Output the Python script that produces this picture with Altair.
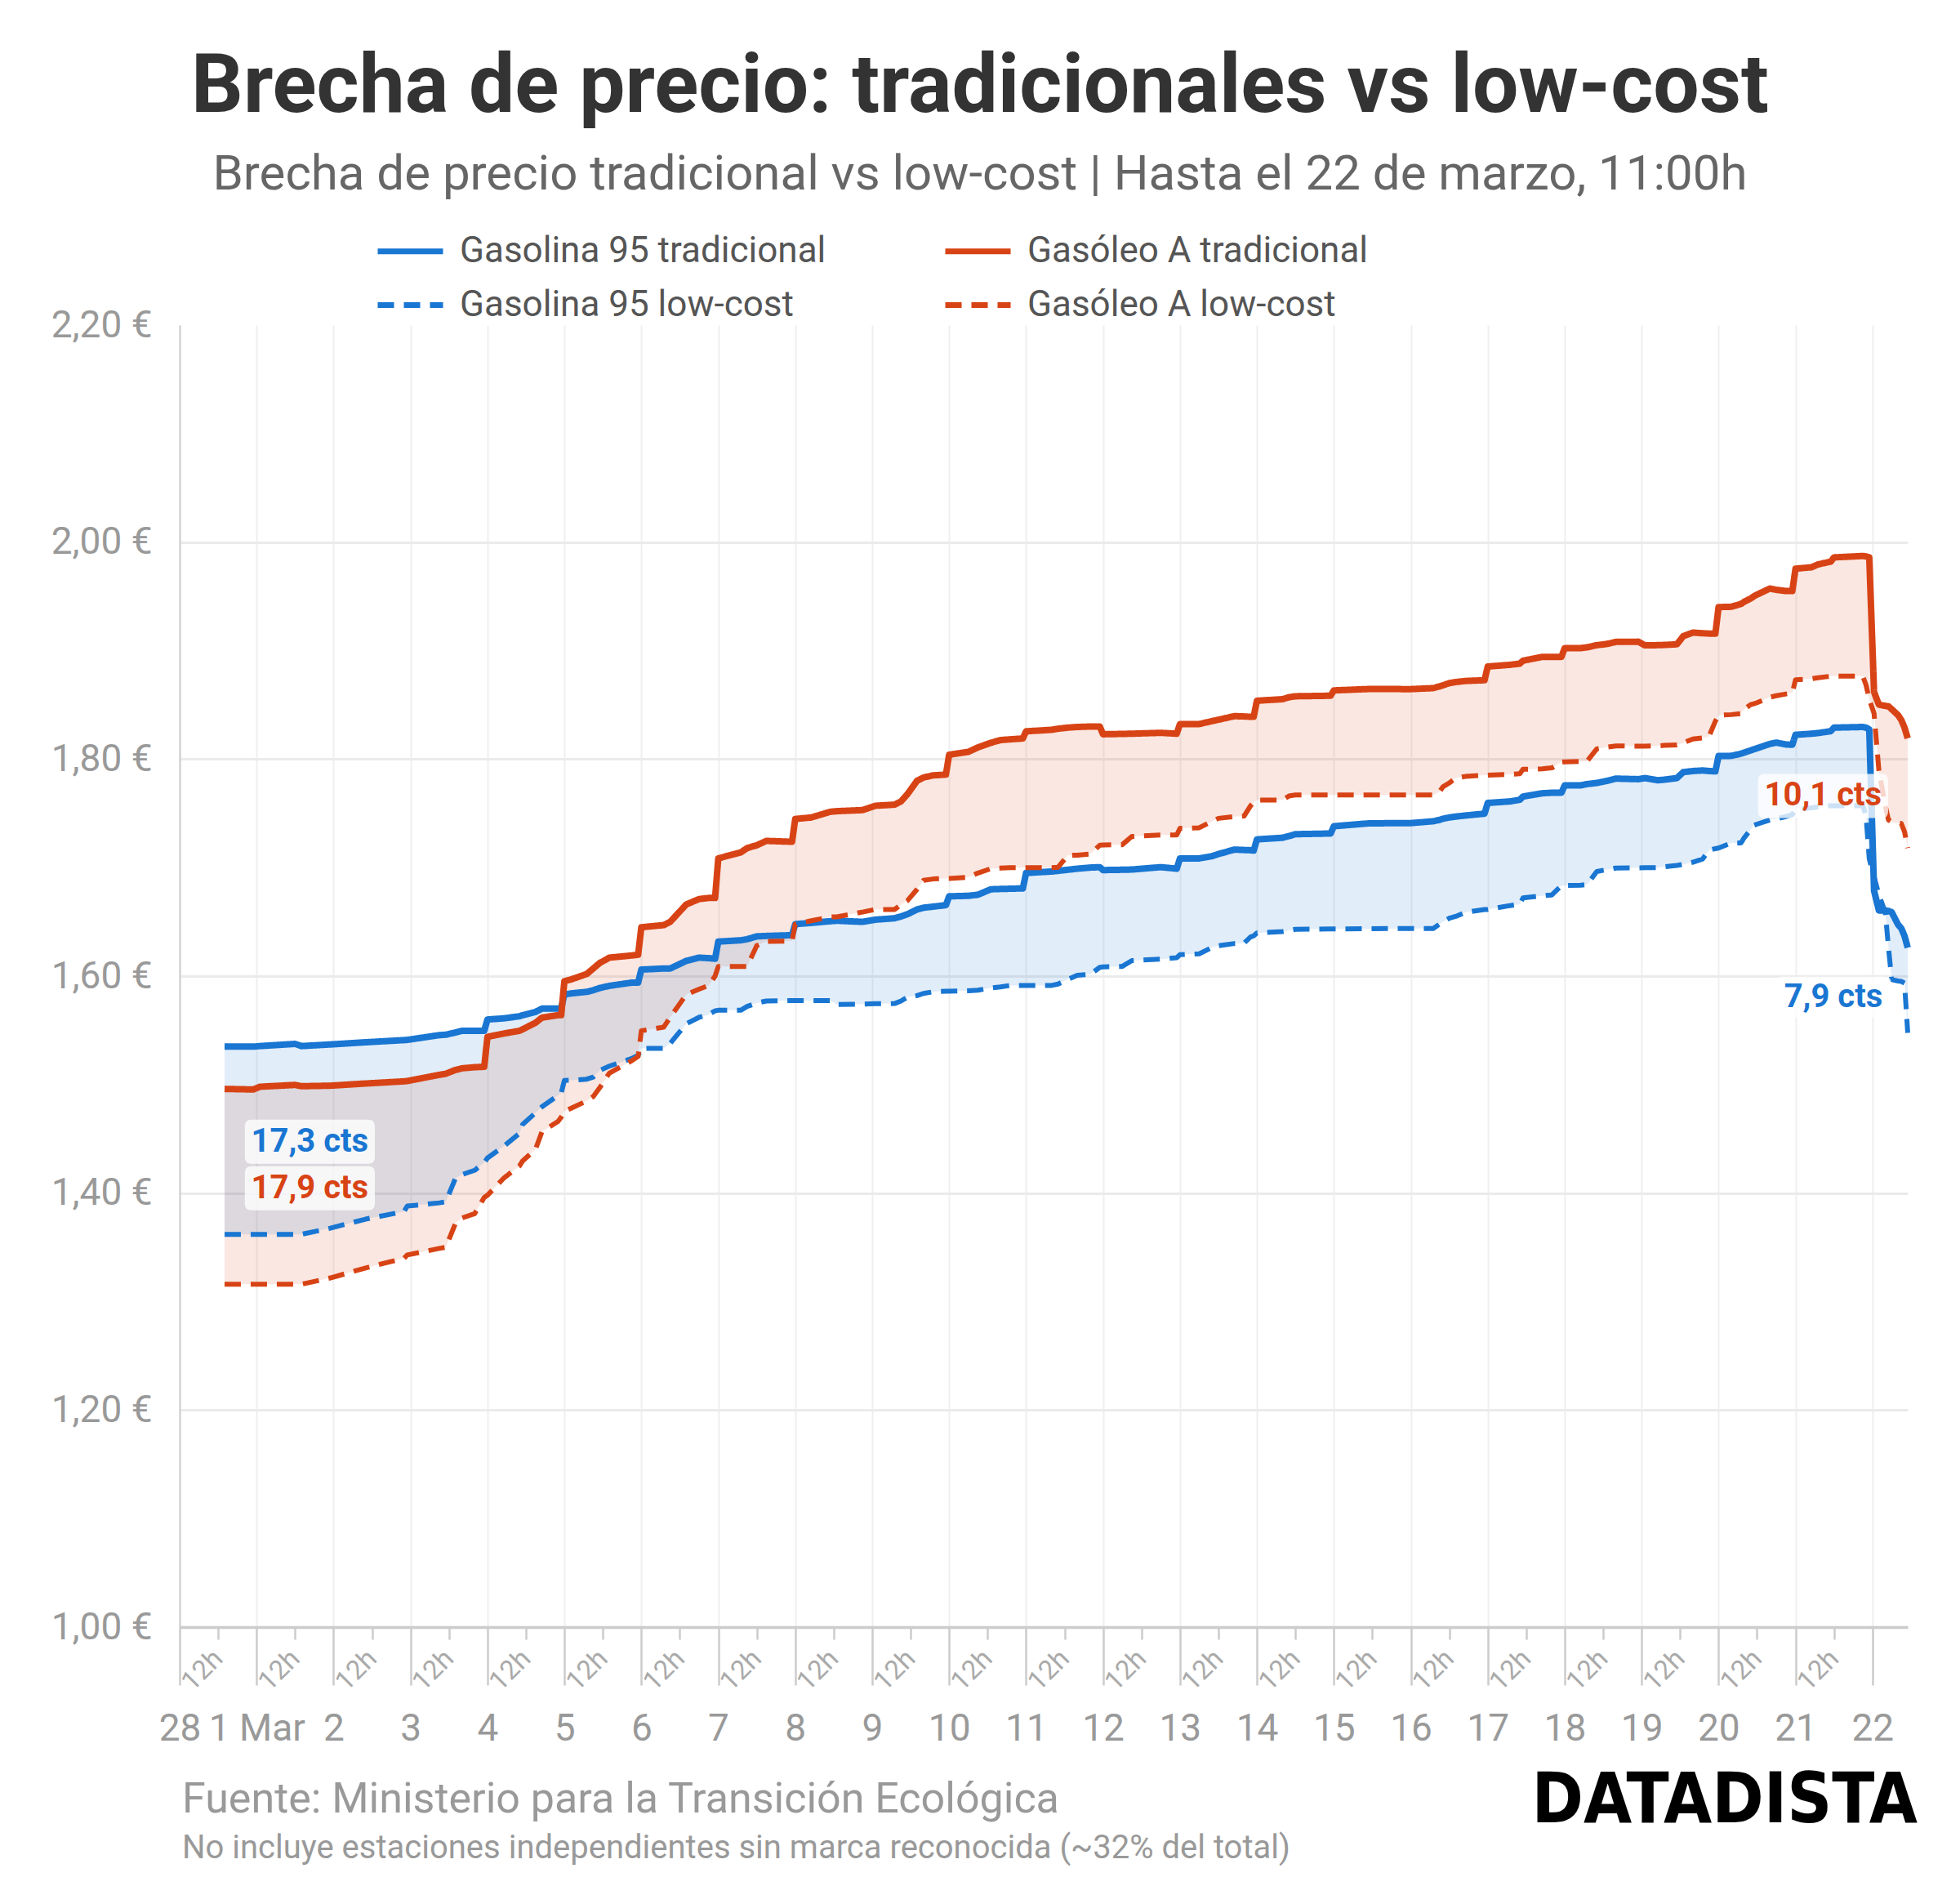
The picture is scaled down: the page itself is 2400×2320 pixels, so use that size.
import json
import altair as alt
import pandas as pd

# ---------------- datos (horas desde el 28 de febrero, 00:00) ----------------
hora = [14, 23, 25, 36, 38, 47, 58, 70, 71, 81, 83, 86, 88, 92, 95, 96, 101, 106, 107, 111,
        113, 118, 119, 120, 122, 127, 129, 131, 134, 141, 143, 144, 151, 153, 158, 162, 165, 167, 168, 175,
        177, 180, 183, 191, 192, 197, 203, 205, 213, 217, 223, 225, 227, 230, 232, 235, 239, 240, 246, 249,
        253, 256, 259, 263, 264, 272, 274, 277, 280, 284, 287, 288, 294, 297, 306, 311, 312, 318, 322, 324,
        329, 332, 334, 335, 336, 344, 346, 348, 359, 360, 371, 384, 391, 393, 394, 396, 398, 401, 407, 408,
        415, 418, 419, 425, 428, 431, 432, 437, 439, 442, 445, 448, 455, 457, 461, 463, 467, 469, 472, 475,
        477, 479, 480, 484, 487, 488, 490, 491, 492, 496, 498, 501, 503, 504, 509, 511, 515, 516, 525, 526,
        527, 528.5, 530, 532, 533, 534, 536, 537, 538, 539]

gasolina95_tradicional = [
    1.535, 1.535, 1.5355, 1.5375, 1.5355, 1.537, 1.539, 1.541, 1.5412, 1.5456, 1.546, 1.548, 1.5496, 1.5496, 1.5496, 1.560, 1.561, 1.563, 1.564, 1.567,
    1.570, 1.570, 1.5705, 1.583, 1.584, 1.5855, 1.587, 1.589, 1.591, 1.594, 1.594, 1.606, 1.607, 1.607, 1.614, 1.617, 1.6165, 1.616, 1.6318, 1.633,
    1.634, 1.6366, 1.637, 1.6377, 1.6479, 1.649, 1.6506, 1.651, 1.650, 1.652, 1.6533, 1.655, 1.657, 1.6614, 1.663, 1.664, 1.6654, 1.6735, 1.674, 1.675,
    1.680, 1.6803, 1.6805, 1.6808, 1.695, 1.6964, 1.697, 1.698, 1.699, 1.700, 1.7004, 1.6977, 1.698, 1.6982, 1.7004, 1.699, 1.7085, 1.7085, 1.7105, 1.7125,
    1.7166, 1.7162, 1.716, 1.7157, 1.726, 1.7275, 1.729, 1.7308, 1.7314, 1.7381, 1.7408, 1.741, 1.7427, 1.744, 1.745, 1.7462, 1.747, 1.748, 1.7497, 1.7596,
    1.761, 1.7625, 1.7655, 1.7685, 1.769, 1.769, 1.7758, 1.7758, 1.777, 1.778, 1.7798, 1.782, 1.7815, 1.7825, 1.7805, 1.781, 1.7825, 1.788, 1.789, 1.7895,
    1.789, 1.7887, 1.8028, 1.803, 1.805, 1.806, 1.808, 1.809, 1.810, 1.814, 1.8152, 1.8135, 1.8132, 1.8224, 1.8234, 1.824, 1.8257, 1.829, 1.8296, 1.829,
    1.8273, 1.6785, 1.6605, 1.6605, 1.660, 1.6589, 1.6474, 1.644, 1.637, 1.6262]

gasolina95_lowcost = [
    1.362, 1.362, 1.362, 1.362, 1.362, 1.3677, 1.376, 1.383, 1.388, 1.391, 1.392, 1.4135, 1.417, 1.421, 1.428, 1.4323, 1.443, 1.455, 1.4633, 1.474,
    1.4795, 1.490, 1.492, 1.5038, 1.504, 1.505, 1.507, 1.513, 1.517, 1.524, 1.527, 1.5334, 1.5334, 1.538, 1.556, 1.562, 1.5645, 1.568, 1.5685, 1.5685,
    1.572, 1.5752, 1.577, 1.5774, 1.5774, 1.5774, 1.5774, 1.5739, 1.5742, 1.5745, 1.5747, 1.577, 1.5806, 1.582, 1.584, 1.5855, 1.586, 1.586, 1.5865, 1.587,
    1.589, 1.590, 1.5914, 1.5914, 1.5914, 1.5914, 1.5927, 1.597, 1.6008, 1.6016, 1.6081, 1.6085, 1.6089, 1.6143, 1.6156, 1.617, 1.6197, 1.6205, 1.6264, 1.628,
    1.630, 1.6304, 1.636, 1.6371, 1.6398, 1.641, 1.642, 1.6431, 1.6435, 1.6435, 1.6437, 1.6439, 1.6439, 1.648, 1.650, 1.6533, 1.655, 1.6587, 1.6614, 1.6614,
    1.665, 1.6662, 1.6721, 1.674, 1.6748, 1.6834, 1.6834, 1.6838, 1.6843, 1.6964, 1.698, 1.6996, 1.6998, 1.6999, 1.700, 1.7007, 1.702, 1.703, 1.705, 1.7079,
    1.7161, 1.7175, 1.718, 1.7227, 1.7227, 1.7276, 1.735, 1.739, 1.740, 1.7439, 1.745, 1.747, 1.7488, 1.7537, 1.755, 1.756, 1.757, 1.757, 1.757, 1.7472,
    1.708, 1.6916, 1.675, 1.6589, 1.6262, 1.5967, 1.5955, 1.5951, 1.5935, 1.5477]

gasoleoA_tradicional = [
    1.496, 1.4955, 1.498, 1.4997, 1.4985, 1.499, 1.501, 1.503, 1.5033, 1.509, 1.510, 1.5135, 1.515, 1.516, 1.5164, 1.544, 1.547, 1.5496, 1.551, 1.557,
    1.5617, 1.564, 1.564, 1.5954, 1.5968, 1.602, 1.607, 1.612, 1.617, 1.619, 1.6197, 1.645, 1.647, 1.650, 1.666, 1.671, 1.672, 1.672, 1.7085, 1.714,
    1.718, 1.7206, 1.7246, 1.7238, 1.7448, 1.7462, 1.7515, 1.752, 1.753, 1.757, 1.758, 1.761, 1.7677, 1.780, 1.783, 1.785, 1.7857, 1.804, 1.8067, 1.8108,
    1.815, 1.8175, 1.8182, 1.819, 1.8256, 1.827, 1.828, 1.829, 1.8296, 1.830, 1.830, 1.8229, 1.8232, 1.8234, 1.8242, 1.8234, 1.8323, 1.8323, 1.835, 1.8363,
    1.8396, 1.8393, 1.839, 1.839, 1.8538, 1.8552, 1.857, 1.8579, 1.8584, 1.8633, 1.8646, 1.8645, 1.8654, 1.867, 1.868, 1.870, 1.871, 1.872, 1.8727, 1.8853,
    1.8869, 1.888, 1.8907, 1.8942, 1.8942, 1.8942, 1.9023, 1.9023, 1.903, 1.905, 1.906, 1.908, 1.9082, 1.9048, 1.905, 1.9052, 1.9058, 1.9133, 1.9166, 1.916,
    1.9157, 1.9156, 1.9401, 1.9404, 1.943, 1.945, 1.948, 1.950, 1.9516, 1.9572, 1.956, 1.9549, 1.9549, 1.9755, 1.9768, 1.9794, 1.982, 1.9859, 1.9872, 1.9868,
    1.9859, 1.8617, 1.8502, 1.849, 1.8486, 1.846, 1.8404, 1.836, 1.829, 1.8191]

gasoleoA_lowcost = [
    1.316, 1.316, 1.316, 1.316, 1.316, 1.3218, 1.331, 1.340, 1.343, 1.349, 1.350, 1.372, 1.377, 1.381, 1.396, 1.398, 1.4135, 1.425, 1.4297, 1.4404,
    1.4566, 1.466, 1.470, 1.4755, 1.478, 1.485, 1.489, 1.497, 1.5105, 1.522, 1.526, 1.5496, 1.553, 1.562, 1.583, 1.588, 1.5914, 1.600, 1.6089, 1.6089,
    1.6089, 1.628, 1.632, 1.6323, 1.6479, 1.651, 1.6546, 1.6546, 1.659, 1.6614, 1.6614, 1.666, 1.6695, 1.680, 1.6883, 1.6895, 1.690, 1.690, 1.691, 1.695,
    1.699, 1.6995, 1.700, 1.700, 1.700, 1.700, 1.7004, 1.7112, 1.7115, 1.7125, 1.7206, 1.7208, 1.7211, 1.7287, 1.730, 1.730, 1.7362, 1.7367, 1.7427, 1.7454,
    1.747, 1.7475, 1.7569, 1.760, 1.7623, 1.7623, 1.766, 1.7669, 1.7669, 1.7669, 1.7669, 1.7669, 1.7669, 1.770, 1.7744, 1.778, 1.7825, 1.784, 1.7852, 1.7852,
    1.786, 1.7865, 1.7906, 1.791, 1.7919, 1.7973, 1.7975, 1.7978, 1.7981, 1.8094, 1.811, 1.8121, 1.8119, 1.812, 1.8122, 1.8126, 1.813, 1.815, 1.8185, 1.8195,
    1.8208, 1.835, 1.8404, 1.841, 1.842, 1.846, 1.8502, 1.851, 1.852, 1.857, 1.8584, 1.860, 1.861, 1.8731, 1.874, 1.875, 1.8764, 1.8764, 1.8764, 1.8682,
    1.855, 1.842, 1.7897, 1.757, 1.7439, 1.742, 1.741, 1.7406, 1.733, 1.718]

# orden de la leyenda (se reparte por columnas)
series = ["Gasolina 95 tradicional", "Gasolina 95 low-cost",
          "Gasóleo A tradicional", "Gasóleo A low-cost"]
AZUL, ROJO = "#1976d2", "#d84315"
colores = [AZUL, AZUL, ROJO, ROJO]
trazos = [[1, 0], [20, 12], [1, 0], [20, 12]]
grosores = [8, 6, 8, 6]

etiquetas_dias = ["28", "1 Mar"] + [str(d) for d in range(2, 23)]
horas_dias = [24 * i for i in range(len(etiquetas_dias))]
horas_12h = [12 + 24 * i for i in range(22)]
valores_y = [1.0, 1.2, 1.4, 1.6, 1.8, 2.0, 2.2]

anot_hora = [40.6, 40.6, 512.6, 515.8]
anot_precio = [1.4473, 1.4044, 1.766, 1.5806]
anot_texto = ["17,3 cts", "17,9 cts", "10,1 cts", "7,9 cts"]
anot_color = [AZUL, ROJO, ROJO, AZUL]

titulo = "Brecha de precio: tradicionales vs low-cost"
subtitulo = "Brecha de precio tradicional vs low-cost | Hasta el 22 de marzo, 11:00h"
fuente = "Fuente: Ministerio para la Transición Ecológica"
nota = "No incluye estaciones independientes sin marca reconocida (~32% del total)"
logo = "DATADISTA"

# ---------------- construcción ----------------
W, H = 2116, 1594
FONT = "Roboto"

ancho = pd.DataFrame({
    "hora": hora,
    "g95_t": gasolina95_tradicional, "g95_l": gasolina95_lowcost,
    "ga_t": gasoleoA_tradicional, "ga_l": gasoleoA_lowcost,
})
largo = pd.concat([
    pd.DataFrame({"hora": hora, "precio": v, "serie": s, "grosor": g})
    for s, v, g in zip(series, [gasolina95_tradicional, gasolina95_lowcost,
                                gasoleoA_tradicional, gasoleoA_lowcost], grosores)
], ignore_index=True)

x_scale = alt.Scale(domain=[0, 539], nice=False, zero=False)
y_scale = alt.Scale(domain=[1.0, 2.2], nice=False, zero=False)

eje_dias = alt.Axis(
    values=horas_dias,
    labelExpr=json.dumps(etiquetas_dias) + "[round(datum.value / 24)]",
    title=None, orient="bottom",
    tickSize=71, tickColor="#cccccc", tickWidth=2.5,
    domainColor="#cccccc", domainWidth=3.5,
    grid=True, gridColor="#efefef", gridWidth=2,
    labelFont=FONT, labelFontSize=46, labelColor="#999999",
    labelPadding=31, labelFlush=False, labelOverlap=False,
    labelBaseline="top", labelAlign="center",
)
eje_12h = alt.Axis(
    values=horas_12h, labelExpr="'12h'", title=None, orient="bottom",
    tickSize=15, tickColor="#cccccc", tickWidth=2.5,
    domain=False, grid=False,
    labelAngle=-45, labelAlign="right", labelBaseline="middle",
    labelFont=FONT, labelFontSize=33, labelColor="#aaaaaa",
    labelPadding=18, labelFlush=False, labelOverlap=False,
)
eje_y = alt.Axis(
    values=valores_y,
    labelExpr="replace(format(datum.value, '.2f'), '.', ',') + ' €'",
    title=None, ticks=False,
    domain=True, domainColor="#cccccc", domainWidth=2,
    grid=True, gridColor="#ebebeb", gridWidth=3,
    gridOpacity={"condition": {"test": "datum.value > 2.1", "value": 0}, "value": 1},
    labelFont=FONT, labelFontSize=46, labelColor="#999999", labelPadding=34,
)


def X(campo):
    return alt.X(campo, type="quantitative", scale=x_scale, axis=eje_dias)


def Y(campo):
    return alt.Y(campo, type="quantitative", scale=y_scale, axis=eje_y)


area_gasoleo = alt.Chart(ancho).mark_area(color=ROJO, fillOpacity=0.13).encode(
    x=X("hora"), y=Y("ga_t"), y2="ga_l")
area_gasolina = alt.Chart(ancho).mark_area(color=AZUL, fillOpacity=0.13).encode(
    x=X("hora"), y=Y("g95_t"), y2="g95_l")

leyenda = alt.Legend(
    title=None, orient="none", legendX=239, legendY=-134, columns=2,
    columnPadding=131, rowPadding=-16, padding=0,
    symbolType="stroke", symbolSize=6400, symbolStrokeWidth=7,
    labelFont=FONT, labelFontSize=44, labelColor="#555555",
    labelOffset=17, labelLimit=2000,
)
lineas = alt.Chart(largo).mark_line(strokeJoin="round").encode(
    x=X("hora"), y=Y("precio"),
    color=alt.Color("serie:N", scale=alt.Scale(domain=series, range=colores), legend=leyenda),
    strokeDash=alt.StrokeDash("serie:N", scale=alt.Scale(domain=series, range=trazos), legend=leyenda),
    strokeWidth=alt.StrokeWidth("grosor:Q", scale=None, legend=None),
)


def caja(w, h, r):
    s = w / 2.0
    hy = h / 2.0 / s
    rr = r / s
    f = lambda v: f"{v:.4f}"
    return (f"M{f(-1 + rr)},{f(-hy)}L{f(1 - rr)},{f(-hy)}Q1,{f(-hy)},1,{f(-hy + rr)}"
            f"L1,{f(hy - rr)}Q1,{f(hy)},{f(1 - rr)},{f(hy)}L{f(-1 + rr)},{f(hy)}"
            f"Q-1,{f(hy)},-1,{f(hy - rr)}L-1,{f(-hy + rr)}Q-1,{f(-hy)},{f(-1 + rr)},{f(-hy)}Z")


anotaciones = []
for hx, py, txt, col in zip(anot_hora, anot_precio, anot_texto, anot_color):
    d = pd.DataFrame({"hora": [hx], "precio": [py], "t": [txt]})
    w = 20 + 17.4 * len(txt)
    h = 54 if len(txt) > 7 else 50
    anotaciones.append(
        alt.Chart(d).mark_point(shape=caja(w, h, 8), size=w * w, filled=True,
                                color="white", opacity=0.78, strokeWidth=0)
        .encode(x=X("hora"), y=Y("precio")))
    anotaciones.append(
        alt.Chart(d).mark_text(font=FONT, fontWeight="bold", fontSize=40, color=col,
                               align="center", baseline="middle")
        .encode(x=X("hora"), y=Y("precio"), text="t:N"))


def texto(contenido, x, y, **kw):
    return alt.Chart(pd.DataFrame({"t": [contenido]})).mark_text(**kw).encode(
        text="t:N", x=alt.value(x), y=alt.value(y))


textos = [
    texto(titulo, 980, -261, font=FONT, fontSize=100, fontWeight="bold", color="#333333",
          align="center", baseline="alphabetic"),
    texto(subtitulo, 980, -166, font=FONT, fontSize=60, color="#666666",
          align="center", baseline="alphabetic"),
    texto(fuente, 3, 1821, font=FONT, fontSize=52, color="#999999",
          align="left", baseline="alphabetic"),
    texto(nota, 3, 1877, font=FONT, fontSize=40, color="#999999",
          align="left", baseline="alphabetic"),
    texto(logo, 2128, 1833, font="Liberation Sans Narrow, DejaVu Sans Condensed, Roboto",
          fontSize=85, fontWeight="bold", color="#000000", align="right", baseline="alphabetic"),
]

principal = alt.layer(area_gasoleo, area_gasolina, lineas, *anotaciones, *textos)

capa_12h = alt.Chart(pd.DataFrame({"h": horas_12h})).mark_point(opacity=0).encode(
    x=alt.X("h:Q", scale=x_scale, axis=eje_12h))

chart = alt.layer(principal, capa_12h).resolve_scale(x="independent").properties(
    width=W, height=H,
    padding={"left": 212, "top": 390, "right": 50, "bottom": 320},
    autosize=alt.AutoSizeParams(type="none"),
    background="white",
).configure_view(stroke=None)

chart.save("out.html", embed_options={"renderer": "svg", "actions": False})
